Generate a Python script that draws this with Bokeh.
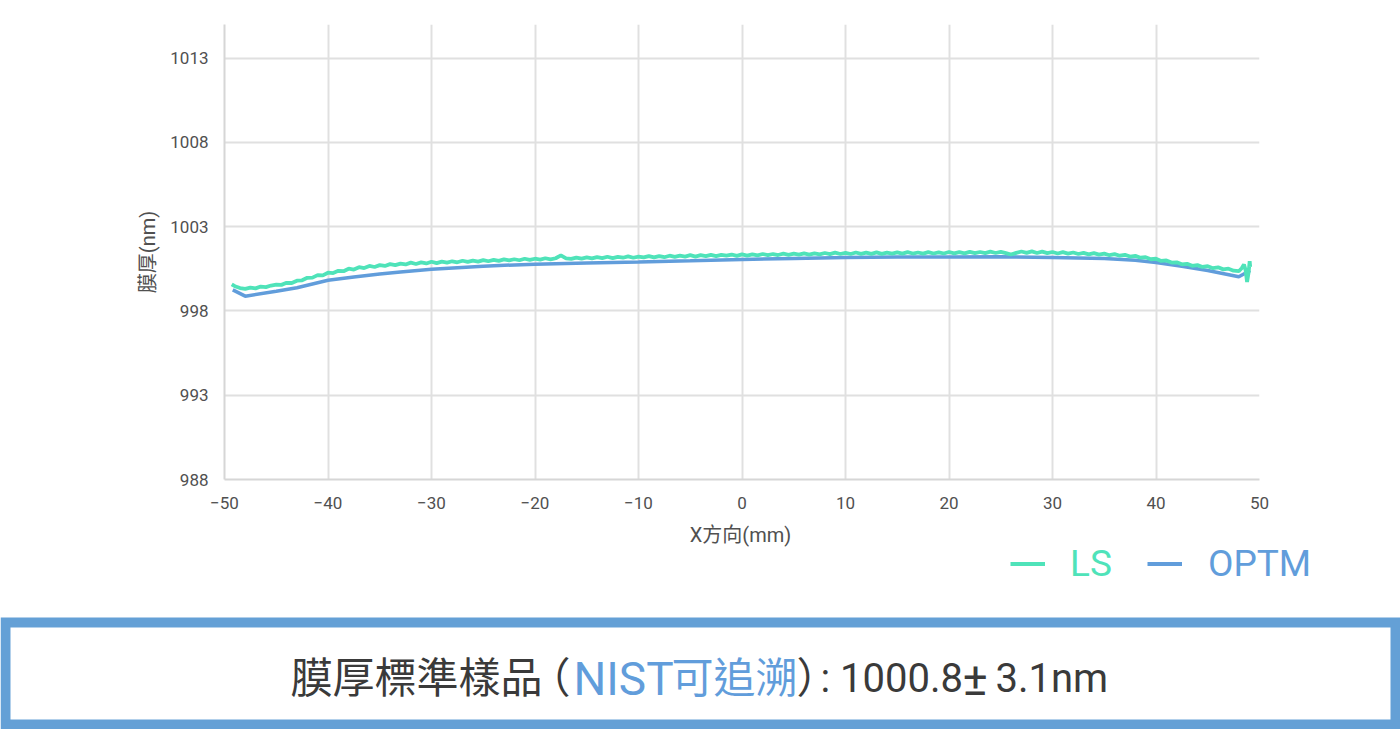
from bokeh.plotting import figure
from bokeh.models import Range1d, FixedTicker, Legend, LegendItem
from bokeh.layouts import column
from bokeh.embed import file_html
from bokeh.resources import INLINE
from bokeh.core.properties import value

# ---------------- data ----------------
x_ticks = [-50, -40, -30, -20, -10, 0, 10, 20, 30, 40, 50]
x_tick_labels = ["−50", "−40", "−30", "−20", "−10", "0", "10", "20", "30", "40", "50"]
y_ticks = [988, 993, 998, 1003, 1008, 1013]
y_tick_labels = ["988", "993", "998", "1003", "1008", "1013"]

ls_x = [-49.3, -49.0, -48.5, -48.0, -47.5, -47.0, -46.5, -46.0, -45.5, -45.0,
        -44.5, -44.0, -43.5, -43.0, -42.5, -42.0, -41.5, -41.0, -40.5, -40.0,
        -39.5, -39.0, -38.5, -38.0, -37.5, -37.0, -36.5, -36.0, -35.5, -35.0,
        -34.5, -34.0, -33.5, -33.0, -32.5, -32.0, -31.5, -31.0, -30.5, -30.0,
        -29.5, -29.0, -28.5, -28.0, -27.5, -27.0, -26.5, -26.0, -25.5, -25.0,
        -24.5, -24.0, -23.5, -23.0, -22.5, -22.0, -21.5, -21.0, -20.5, -20.0,
        -19.5, -19.0, -18.5, -18.0, -17.5, -17.0, -16.5, -16.0, -15.5, -15.0,
        -14.5, -14.0, -13.5, -13.0, -12.5, -12.0, -11.5, -11.0, -10.5, -10.0,
        -9.5, -9.0, -8.5, -8.0, -7.5, -7.0, -6.5, -6.0, -5.5, -5.0,
        -4.5, -4.0, -3.5, -3.0, -2.5, -2.0, -1.5, -1.0, -0.5, 0.0,
        0.5, 1.0, 1.5, 2.0, 2.5, 3.0, 3.5, 4.0, 4.5, 5.0,
        5.5, 6.0, 6.5, 7.0, 7.5, 8.0, 8.5, 9.0, 9.5, 10.0,
        10.5, 11.0, 11.5, 12.0, 12.5, 13.0, 13.5, 14.0, 14.5, 15.0,
        15.5, 16.0, 16.5, 17.0, 17.5, 18.0, 18.5, 19.0, 19.5, 20.0,
        20.5, 21.0, 21.5, 22.0, 22.5, 23.0, 23.5, 24.0, 24.5, 25.0,
        25.5, 26.0, 26.5, 27.0, 27.5, 28.0, 28.5, 29.0, 29.5, 30.0,
        30.5, 31.0, 31.5, 32.0, 32.5, 33.0, 33.5, 34.0, 34.5, 35.0,
        35.5, 36.0, 36.5, 37.0, 37.5, 38.0, 38.5, 39.0, 39.5, 40.0,
        40.5, 41.0, 41.5, 42.0, 42.5, 43.0, 43.5, 44.0, 44.5, 45.0,
        45.5, 46.0, 46.5, 47.0, 47.5, 48.0, 48.3, 48.5, 48.65, 48.8,
        48.95, 49.05, 49.1]
ls_y = [999.58, 999.47, 999.36, 999.31, 999.39, 999.34, 999.45, 999.42, 999.51, 999.56,
        999.55, 999.67, 999.66, 999.80, 999.82, 999.97, 999.98, 1000.13, 1000.11, 1000.27,
        1000.25, 1000.38, 1000.36, 1000.51, 1000.46, 1000.60, 1000.55, 1000.67, 1000.61, 1000.72,
        1000.67, 1000.78, 1000.72, 1000.81, 1000.76, 1000.87, 1000.79, 1000.88, 1000.82, 1000.92,
        1000.84, 1000.93, 1000.87, 1000.95, 1000.89, 1000.98, 1000.91, 1000.99, 1000.93, 1001.02,
        1000.95, 1001.03, 1000.97, 1001.06, 1001.00, 1001.07, 1001.01, 1001.10, 1001.03, 1001.10,
        1001.05, 1001.13, 1001.06, 1001.13, 1001.30, 1001.12, 1001.09, 1001.17, 1001.11, 1001.18,
        1001.12, 1001.20, 1001.14, 1001.22, 1001.14, 1001.21, 1001.16, 1001.24, 1001.16, 1001.23,
        1001.18, 1001.26, 1001.18, 1001.26, 1001.19, 1001.28, 1001.21, 1001.28, 1001.23, 1001.31,
        1001.23, 1001.31, 1001.25, 1001.33, 1001.26, 1001.33, 1001.28, 1001.35, 1001.27, 1001.36,
        1001.29, 1001.36, 1001.30, 1001.38, 1001.31, 1001.38, 1001.32, 1001.40, 1001.33, 1001.40,
        1001.34, 1001.42, 1001.35, 1001.42, 1001.36, 1001.44, 1001.37, 1001.46, 1001.38, 1001.45,
        1001.38, 1001.47, 1001.39, 1001.46, 1001.39, 1001.48, 1001.39, 1001.46, 1001.40, 1001.48,
        1001.40, 1001.49, 1001.41, 1001.47, 1001.40, 1001.49, 1001.41, 1001.48, 1001.41, 1001.50,
        1001.42, 1001.49, 1001.42, 1001.51, 1001.43, 1001.50, 1001.43, 1001.52, 1001.44, 1001.51,
        1001.43, 1001.35, 1001.45, 1001.53, 1001.45, 1001.54, 1001.44, 1001.52, 1001.43, 1001.50,
        1001.41, 1001.49, 1001.40, 1001.47, 1001.38, 1001.45, 1001.36, 1001.43, 1001.34, 1001.40,
        1001.31, 1001.37, 1001.28, 1001.33, 1001.23, 1001.27, 1001.16, 1001.19, 1001.07, 1001.10,
        1000.97, 1001.00, 1000.87, 1000.89, 1000.77, 1000.80, 1000.68, 1000.72, 1000.61, 1000.66,
        1000.54, 1000.59, 1000.47, 1000.51, 1000.39, 1000.36, 1000.55, 1000.76, 1000.45, 999.72,
        1000.30, 1000.95, 1000.62]

optm_x = [-49.2, -48.0, -45.0, -43.0, -40.0, -37.5, -35.0, -33.0, -30.0, -25.0,
          -20.0, -15.0, -10.0, -5.0, 0.0, 5.0, 10.0, 15.0, 20.0, 25.0,
          30.0, 35.0, 38.0, 40.0, 42.5, 45.0, 48.0, 49.1]
optm_y = [999.25, 998.88, 999.17, 999.38, 999.82, 1000.02, 1000.20, 1000.32, 1000.47, 1000.66,
          1000.78, 1000.85, 1000.91, 1000.98, 1001.06, 1001.12, 1001.17, 1001.20, 1001.21, 1001.22,
          1001.18, 1001.11, 1001.01, 1000.88, 1000.66, 1000.40, 1000.03, 1000.40]

series_names = ["LS", "OPTM"]
x_label = "X方向(mm)"
y_label = "膜厚(nm)"
caption_parts = ["膜厚標準樣品", "（", "NIST", "可追溯", "）", ": 1000.8", "±", "3.1nm"]

# ---------------- style ----------------
GREEN = "#4fe3b9"
BLUE = "#619ddb"
BORDER = "#64a0d6"
DARK = "#3a3a3a"
TICK = "#505050"
GRID = "#e0e0e0"
FONT = "Roboto, 'Noto Sans CJK TC'"

W = 1400
P_H = 520
Q_H = 729 - P_H

# ---------------- chart ----------------
p = figure(width=W, height=P_H, output_backend="svg", toolbar_location=None,
           x_range=Range1d(-50, 50), y_range=Range1d(988, 1015),
           min_border_left=224, min_border_right=141,
           min_border_top=24, min_border_bottom=P_H - 479)
p.outline_line_color = None
p.frame_align = False

r_optm = p.line(optm_x, optm_y, line_color=BLUE, line_width=3.5)
r_ls = p.line(ls_x, ls_y, line_color=GREEN, line_width=3.8)

p.xaxis.ticker = FixedTicker(ticks=x_ticks)
p.yaxis.ticker = FixedTicker(ticks=y_ticks)
p.xaxis.major_label_overrides = {t: s for t, s in zip(x_ticks, x_tick_labels)}
p.yaxis.major_label_overrides = {t: s for t, s in zip(y_ticks, y_tick_labels)}

for ax in (p.xaxis, p.yaxis):
    ax.axis_line_color = "#d6d6d6"
    ax.axis_line_width = 2
    ax.major_tick_line_color = None
    ax.minor_tick_line_color = None
    ax.major_tick_out = 0
    ax.major_tick_in = 0
    ax.major_label_text_font = FONT
    ax.major_label_text_font_size = "17px"
    ax.major_label_text_color = TICK
    ax.axis_label_text_font = FONT
    ax.axis_label_text_font_style = "normal"
    ax.axis_label_text_color = TICK

p.xaxis.major_label_standoff = 17
p.yaxis.major_label_standoff = 16
p.yaxis.axis_label = y_label
p.yaxis.axis_label_standoff = 7
p.yaxis.axis_label_text_font_size = "20px"

p.xgrid.grid_line_color = GRID
p.ygrid.grid_line_color = GRID
p.xgrid.grid_line_width = 2
p.ygrid.grid_line_width = 2

# ---------------- x label, legend and caption box ----------------
# y range runs downward so that data y equals page pixel row
q = figure(width=W, height=Q_H, output_backend="svg", toolbar_location=None,
           x_range=Range1d(0, W), y_range=Range1d(729, P_H),
           x_axis_location=None, y_axis_location=None, min_border=0)
q.outline_line_color = None
q.grid.visible = False
q.frame_align = False

q.text(x=[740], y=[534], text=[x_label], text_font=value(FONT), text_font_size="20px",
       text_color=TICK, text_align="center", text_baseline="alphabetic")

# legend keys: the same series, not drawn in this panel
d_ls = q.line(ls_x, ls_y, line_color=GREEN, line_width=4, visible=False)
d_optm = q.line(optm_x, optm_y, line_color=BLUE, line_width=4, visible=False)
common = dict(orientation="horizontal", glyph_width=35, glyph_height=41, label_height=41,
              label_text_font="Roboto", label_text_font_size="37px",
              padding=0, margin=0, spacing=0, border_line_color=None,
              background_fill_alpha=0, click_policy="none")
leg_ls = Legend(items=[LegendItem(label=series_names[0], renderers=[d_ls])],
                location=(1010, 729 - 584.5), label_standoff=25,
                label_text_color=GREEN, **common)
leg_optm = Legend(items=[LegendItem(label=series_names[1], renderers=[d_optm])],
                  location=(1147, 729 - 584.5), label_standoff=26,
                  label_text_color=BLUE, **common)
q.add_layout(leg_ls)
q.add_layout(leg_optm)

q.quad(left=[0], right=[W], top=[617], bottom=[729], fill_color=BORDER, line_color=None)
q.quad(left=[10], right=[W - 10], top=[627], bottom=[719], fill_color="white", line_color=None)

cap_x = [290, 528, 573, 671, 796, 820, 962, 995]
cap_size = ["42px", "42px", "46px", "42px", "42px", "40px", "47px", "40px"]
cap_color = [DARK, DARK, BLUE, BLUE, DARK, DARK, DARK, DARK]
for cx, txt, sz, col in zip(cap_x, caption_parts, cap_size, cap_color):
    q.text(x=[cx], y=[678], text=[txt], text_font=value(FONT), text_font_size=sz,
           text_color=col, text_align="left", text_baseline="alphabetic")

layout = column(p, q, spacing=0)
open("out.html", "w").write(file_html(layout, INLINE))
